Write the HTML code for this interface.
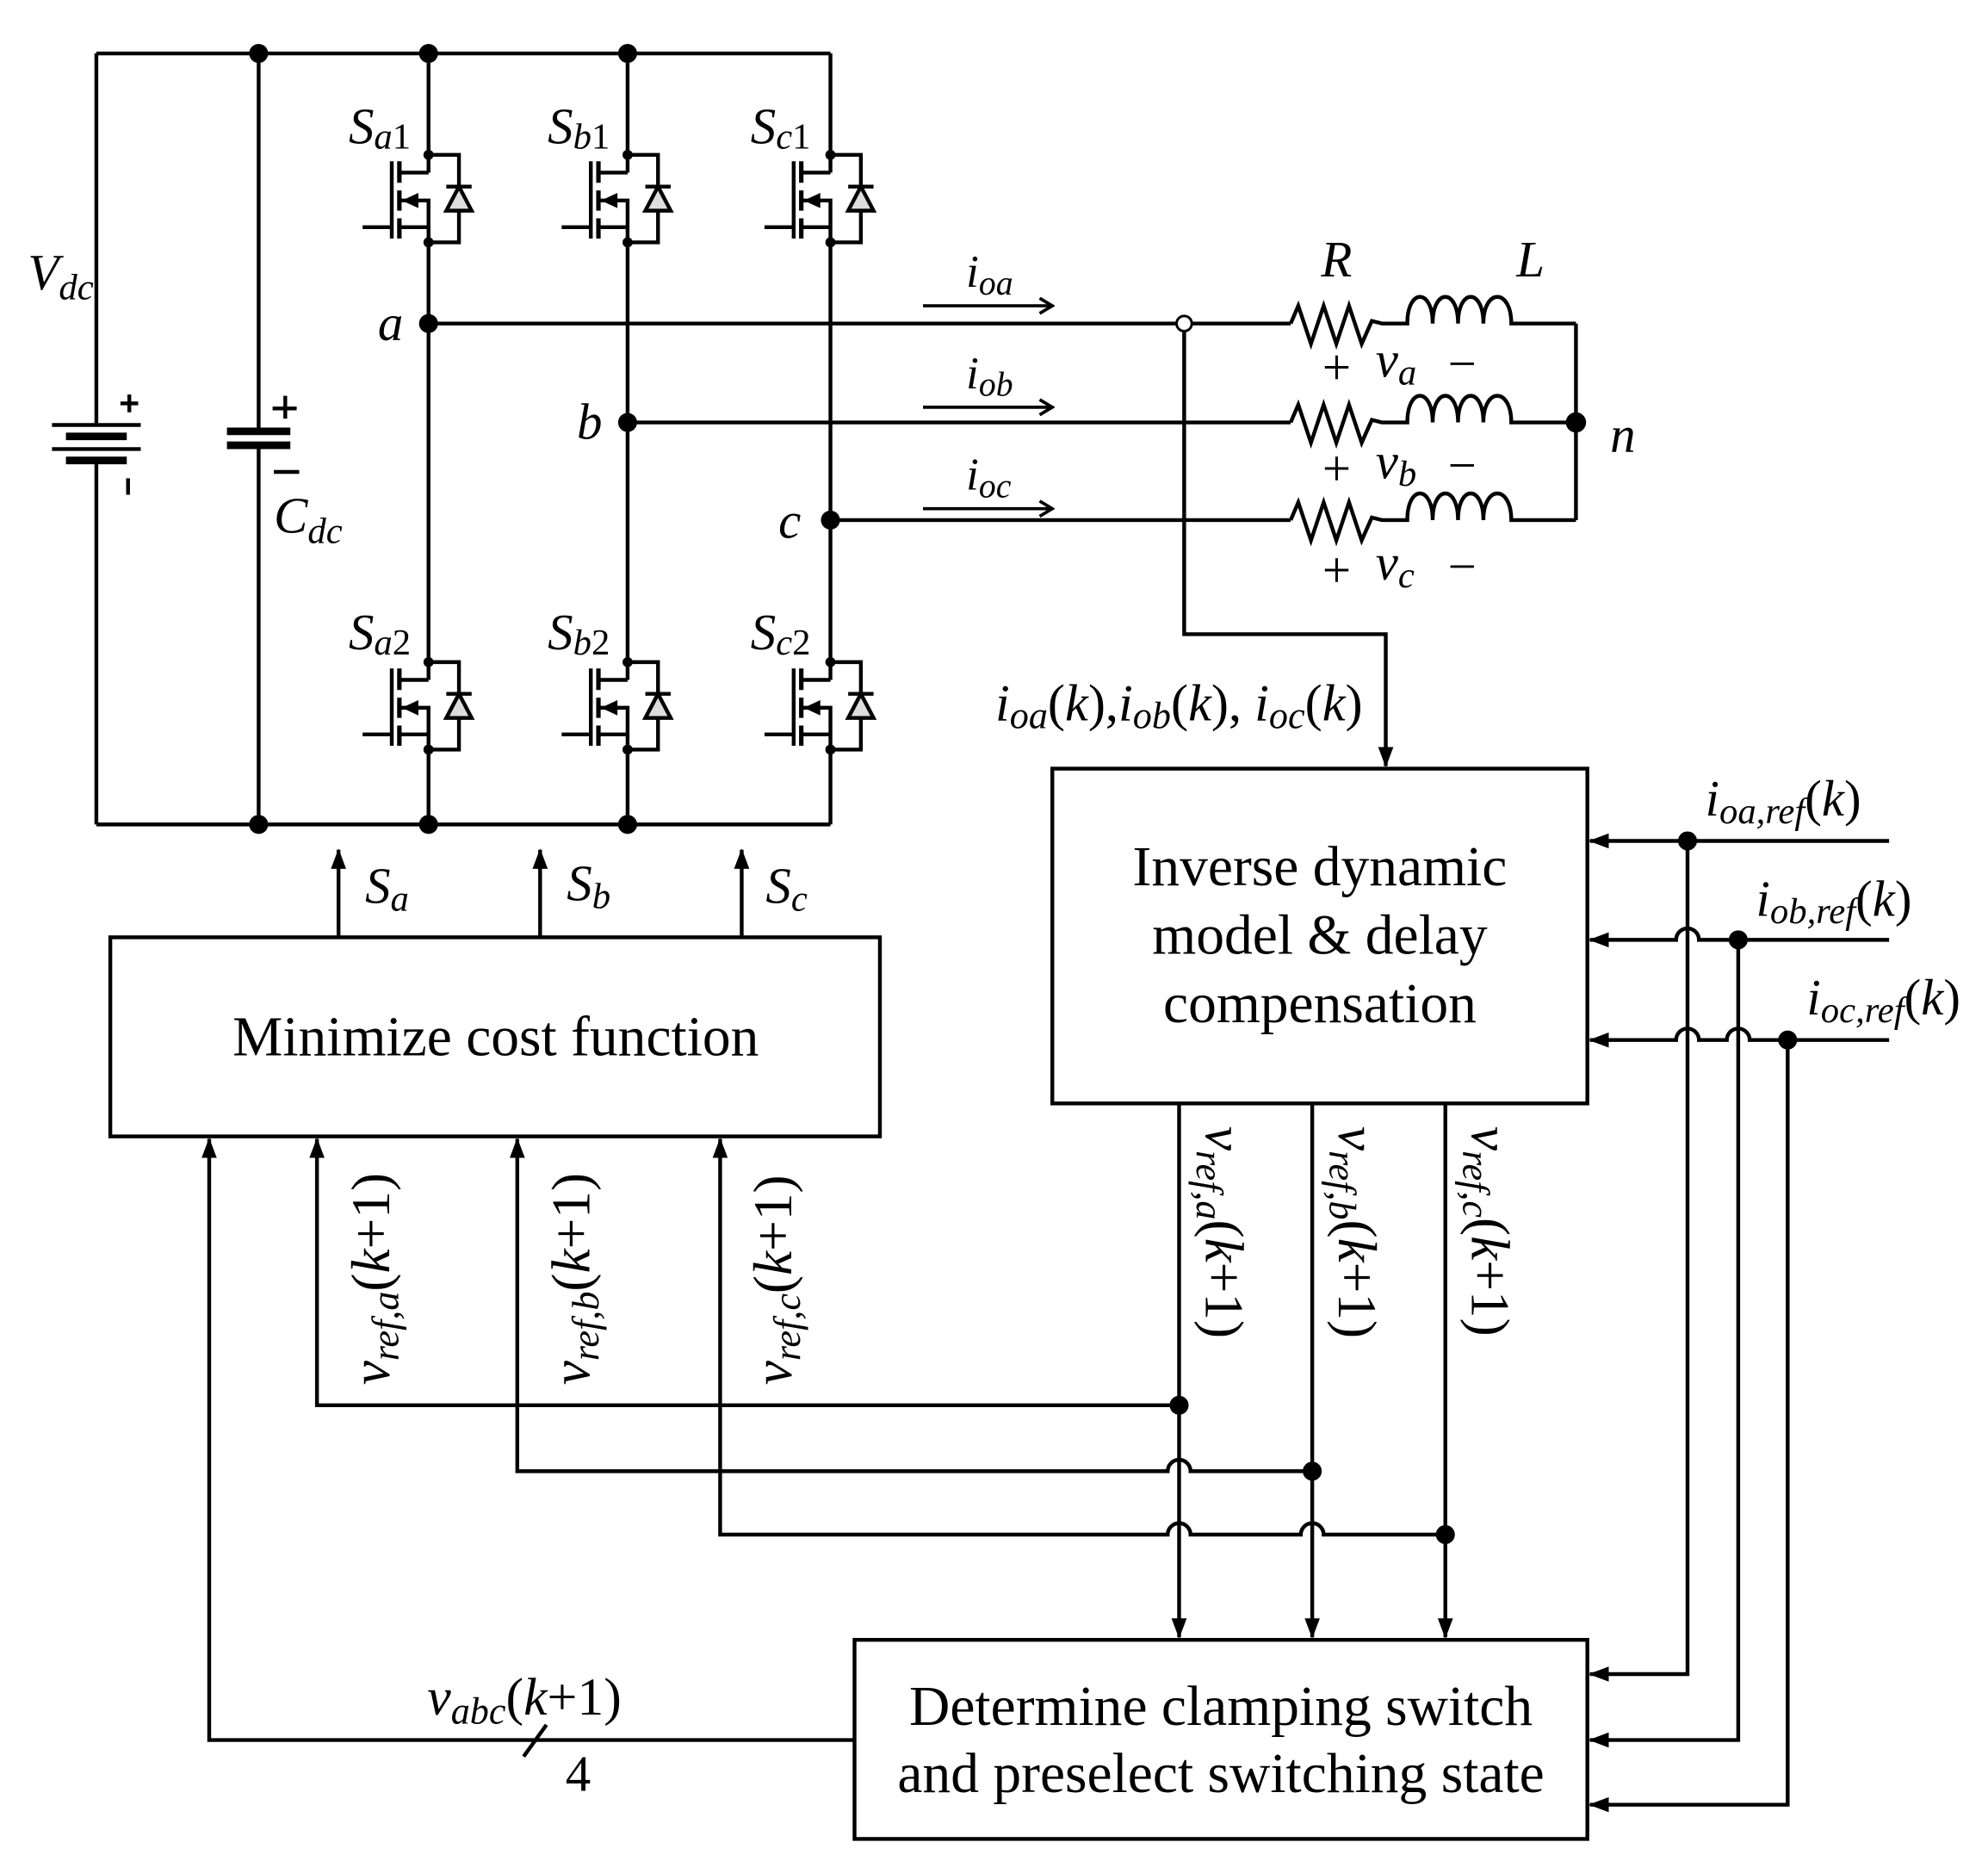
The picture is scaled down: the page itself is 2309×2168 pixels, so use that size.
<!DOCTYPE html>
<html><head><meta charset="utf-8"><style>
html,body{margin:0;padding:0;background:#fff;}
svg{display:block;}
text{font-family:"Liberation Serif","DejaVu Serif",serif;fill:#000;}
.i{font-style:italic;}
</style></head><body>
<svg width="2309" height="2168" viewBox="0 0 1568 1472" xmlns="http://www.w3.org/2000/svg">
<defs>
<g id="mos" stroke="#000" stroke-width="3" fill="none">
<path d="M0,0 V14 M0,14 H-23 M-23,36 H0 V57 M-23,57 H0 V69 M0,0 H24 V69 H0"/>
<path d="M-23,5 V22 M-23,28 V44 M-23,50 V66" stroke-width="3.5"/>
<path d="M-29,5 V66 M-52,57 H-29"/>
<path d="M14,25 H34" />
<polygon points="24,25 14,44 34,44" fill="#ddd"/>
<polygon points="-21,36 -8,30 -8,42" fill="#000" stroke="none"/>
<circle cx="0" cy="0" r="4" fill="#000" stroke="none"/>
<circle cx="0" cy="69" r="4" fill="#000" stroke="none"/>
</g>
<g id="rl" stroke="#000" stroke-width="3" fill="none">
<path d="M0,0 L6,-14 L16,16 L26,-14 L36,16 L46,-14 L56,16 L64,-2 L72,0 H92 C92,-28 112,-28 112,0 C112,-28 132,-28 132,0 C132,-28 152,-28 152,0 C152,-28 174,-28 174,0 H225"/>
</g>
<marker id="ah2" viewBox="0 0 16 12" markerWidth="16" markerHeight="12" refX="15" refY="6" orient="auto" markerUnits="userSpaceOnUse">
<path d="M0,0 L16,6 L0,12 z" fill="#000"/>
</marker>
<marker id="oa" markerWidth="14" markerHeight="14" refX="12" refY="7" orient="auto" markerUnits="userSpaceOnUse">
<path d="M2,1 L12,7 L2,13" fill="none" stroke="#000" stroke-width="2.5"/>
</marker>
</defs>

<g stroke="#000" stroke-width="3" fill="none">
<path d="M76,42 H655 M76,650 H655 M76,42 V335 M76,363 V650 M204,42 V340 M204,351 V650"/>
<path d="M338,42 V122 M338,191 V522 M338,591 V650"/>
<path d="M495,42 V122 M495,191 V522 M495,591 V650"/>
<path d="M655,42 V122 M655,191 V522 M655,591 V650"/>
<path d="M41,335 H111 M41,354 H111" />
<path d="M52,344 H100 M52,363 H100" stroke-width="6"/>
<path d="M179,340 H229 M179,351 H229" stroke-width="6"/>
<path d="M95,318 H109 M102,311 V325 M101,377 V390 M215,322 H234 M225,312 V330 M216,372 H236"/>
<path d="M338,255 H930 M938,255 H1018 M495,333 H1018 M655,410 H1018"/>
<path d="M1243,255 V410"/>
<path d="M934,259 V500 H1093 V604" marker-end="url(#ah2)"/>
<path d="M728,241 H830" stroke-width="2.5" marker-end="url(#oa)"/>
<path d="M728,321 H830" stroke-width="2.5" marker-end="url(#oa)"/>
<path d="M728,401 H830" stroke-width="2.5" marker-end="url(#oa)"/>
<rect x="830" y="606" width="422" height="264"/>
<rect x="87" y="739" width="607" height="157"/>
<rect x="674" y="1293" width="578" height="157"/>
<path d="M267,739 V670" marker-end="url(#ah2)"/>
<path d="M426,739 V670" marker-end="url(#ah2)"/>
<path d="M585,739 V670" marker-end="url(#ah2)"/>
<path d="M674,1372 H165 V898" marker-end="url(#ah2)"/>
<path d="M413,1385 L431,1360"/>
<path d="M930,870 V1291" marker-end="url(#ah2)"/>
<path d="M1035,870 V1291" marker-end="url(#ah2)"/>
<path d="M1140,870 V1291" marker-end="url(#ah2)"/>
<path d="M930,1108 H250 V898" marker-end="url(#ah2)"/>
<path d="M1035,1160 H939 A9,9 0 0 0 921,1160 H408 V898" marker-end="url(#ah2)"/>
<path d="M1140,1210 H1044 A9,9 0 0 0 1026,1210 H939 A9,9 0 0 0 921,1210 H568 V898" marker-end="url(#ah2)"/>
<path d="M1490,663 H1254" marker-end="url(#ah2)"/>
<path d="M1490,741 H1340 A9,9 0 0 0 1322,741 H1254" marker-end="url(#ah2)"/>
<path d="M1490,820 H1380 A9,9 0 0 0 1362,820 H1340 A9,9 0 0 0 1322,820 H1254" marker-end="url(#ah2)"/>
<path d="M1331,663 V1320 H1254" marker-end="url(#ah2)"/>
<path d="M1371,741 V1372 H1254" marker-end="url(#ah2)"/>
<path d="M1410,820 V1423 H1254" marker-end="url(#ah2)"/>
</g>
<use href="#mos" x="338" y="122"/><use href="#mos" x="495" y="122"/><use href="#mos" x="655" y="122"/>
<use href="#mos" x="338" y="522"/><use href="#mos" x="495" y="522"/><use href="#mos" x="655" y="522"/>
<use href="#rl" x="1018" y="255"/><use href="#rl" x="1018" y="333"/><use href="#rl" x="1018" y="410"/>
<circle cx="934" cy="255" r="6" fill="#fff" stroke="#000" stroke-width="2"/>
<g fill="#000">
<circle cx="204" cy="42" r="7.5"/><circle cx="338" cy="42" r="7.5"/><circle cx="495" cy="42" r="7.5"/>
<circle cx="204" cy="650" r="7.5"/><circle cx="338" cy="650" r="7.5"/><circle cx="495" cy="650" r="7.5"/>
<circle cx="338" cy="255" r="7.5"/><circle cx="495" cy="333" r="7.5"/><circle cx="655" cy="410" r="7.5"/>
<circle cx="1243" cy="333" r="8"/>
<circle cx="930" cy="1108" r="7.5"/><circle cx="1035" cy="1160" r="7.5"/><circle cx="1140" cy="1210" r="7.5"/>
<circle cx="1331" cy="663" r="7.5"/><circle cx="1371" cy="741" r="7.5"/><circle cx="1410" cy="820" r="7.5"/>
</g>

<g font-size="40">
<text x="275" y="113" class="i">S<tspan font-size="29" dy="4">a</tspan><tspan font-size="29" font-style="normal">1</tspan></text>
<text x="432" y="113" class="i">S<tspan font-size="29" dy="4">b</tspan><tspan font-size="29" font-style="normal">1</tspan></text>
<text x="592" y="113" class="i">S<tspan font-size="29" dy="4">c</tspan><tspan font-size="29" font-style="normal">1</tspan></text>
<text x="275" y="512" class="i">S<tspan font-size="29" dy="4">a</tspan><tspan font-size="29" font-style="normal">2</tspan></text>
<text x="432" y="512" class="i">S<tspan font-size="29" dy="4">b</tspan><tspan font-size="29" font-style="normal">2</tspan></text>
<text x="592" y="512" class="i">S<tspan font-size="29" dy="4">c</tspan><tspan font-size="29" font-style="normal">2</tspan></text>
<text x="22" y="228" class="i">V<tspan font-size="29" dy="8">dc</tspan></text>
<text x="216" y="420" class="i">C<tspan font-size="29" dy="8">dc</tspan></text>
<text x="298" y="268" class="i">a</text>
<text x="455" y="346" class="i">b</text>
<text x="614" y="424" class="i">c</text>
<text x="762" y="226" class="i" font-size="36">i<tspan font-size="27" dy="6">oa</tspan></text>
<text x="762" y="306" class="i" font-size="36">i<tspan font-size="27" dy="6">ob</tspan></text>
<text x="762" y="386" class="i" font-size="36">i<tspan font-size="27" dy="6">oc</tspan></text>
<text x="1042" y="218" class="i">R</text>
<text x="1196" y="218" class="i">L</text>
<text x="1270" y="356" class="i">n</text>
<text x="1043" y="303">+</text><text x="1085" y="297" class="i">v<tspan font-size="29" dy="6">a</tspan></text><text x="1142" y="300">−</text>
<text x="1043" y="383">+</text><text x="1085" y="377" class="i">v<tspan font-size="29" dy="6">b</tspan></text><text x="1142" y="380">−</text>
<text x="1043" y="463">+</text><text x="1085" y="457" class="i">v<tspan font-size="29" dy="6">c</tspan></text><text x="1142" y="460">−</text>
<text x="785" y="568" font-size="41"><tspan class="i">i</tspan><tspan class="i" font-size="30" dy="6">oa</tspan><tspan dy="-6">(</tspan><tspan class="i">k</tspan>),<tspan class="i">i</tspan><tspan class="i" font-size="30" dy="6">ob</tspan><tspan dy="-6">(</tspan><tspan class="i">k</tspan>), <tspan class="i">i</tspan><tspan class="i" font-size="30" dy="6">oc</tspan><tspan dy="-6">(</tspan><tspan class="i">k</tspan>)</text>
<text x="1345" y="643" font-size="40"><tspan class="i">i</tspan><tspan class="i" font-size="29" dy="6">oa,ref</tspan><tspan dy="-6">(</tspan><tspan class="i">k</tspan>)</text>
<text x="1385" y="722" font-size="40"><tspan class="i">i</tspan><tspan class="i" font-size="29" dy="6">ob,ref</tspan><tspan dy="-6">(</tspan><tspan class="i">k</tspan>)</text>
<text x="1425" y="800" font-size="40"><tspan class="i">i</tspan><tspan class="i" font-size="29" dy="6">oc,ref</tspan><tspan dy="-6">(</tspan><tspan class="i">k</tspan>)</text>
<text x="288" y="712" class="i">S<tspan font-size="29" dy="6">a</tspan></text>
<text x="447" y="710" class="i">S<tspan font-size="29" dy="6">b</tspan></text>
<text x="604" y="712" class="i">S<tspan font-size="29" dy="6">c</tspan></text>
<text x="1041" y="698" text-anchor="middle" font-size="44.5">Inverse dynamic</text>
<text x="1041" y="752" text-anchor="middle" font-size="44.5">model &amp; delay</text>
<text x="1041" y="806" text-anchor="middle" font-size="44.5">compensation</text>
<text x="391" y="832" text-anchor="middle" font-size="44.5">Minimize cost function</text>
<text x="963" y="1360" text-anchor="middle" font-size="44.5">Determine clamping switch</text>
<text x="963" y="1413" text-anchor="middle" font-size="44.5">and preselect switching state</text>
<text x="337" y="1352" font-size="42"><tspan class="i">v</tspan><tspan class="i" font-size="30" dy="7">abc</tspan><tspan dy="-7">(</tspan><tspan class="i">k</tspan>+1)</text>
<text x="446" y="1412">4</text>
<g font-size="43">
<text transform="translate(307,1092) rotate(-90)"><tspan class="i">v</tspan><tspan class="i" font-size="30" dy="7">ref,a</tspan><tspan dy="-7">(</tspan><tspan class="i">k</tspan>+1)</text>
<text transform="translate(465,1092) rotate(-90)"><tspan class="i">v</tspan><tspan class="i" font-size="30" dy="7">ref,b</tspan><tspan dy="-7">(</tspan><tspan class="i">k</tspan>+1)</text>
<text transform="translate(624,1092) rotate(-90)"><tspan class="i">v</tspan><tspan class="i" font-size="30" dy="7">ref,c</tspan><tspan dy="-7">(</tspan><tspan class="i">k</tspan>+1)</text>
<text transform="translate(951,888) rotate(90)"><tspan class="i">v</tspan><tspan class="i" font-size="30" dy="7">ref,a</tspan><tspan dy="-7">(</tspan><tspan class="i">k</tspan>+1)</text>
<text transform="translate(1056,888) rotate(90)"><tspan class="i">v</tspan><tspan class="i" font-size="30" dy="7">ref,b</tspan><tspan dy="-7">(</tspan><tspan class="i">k</tspan>+1)</text>
<text transform="translate(1161,888) rotate(90)"><tspan class="i">v</tspan><tspan class="i" font-size="30" dy="7">ref,c</tspan><tspan dy="-7">(</tspan><tspan class="i">k</tspan>+1)</text>
</g>
</g>
</svg>
</body></html>
